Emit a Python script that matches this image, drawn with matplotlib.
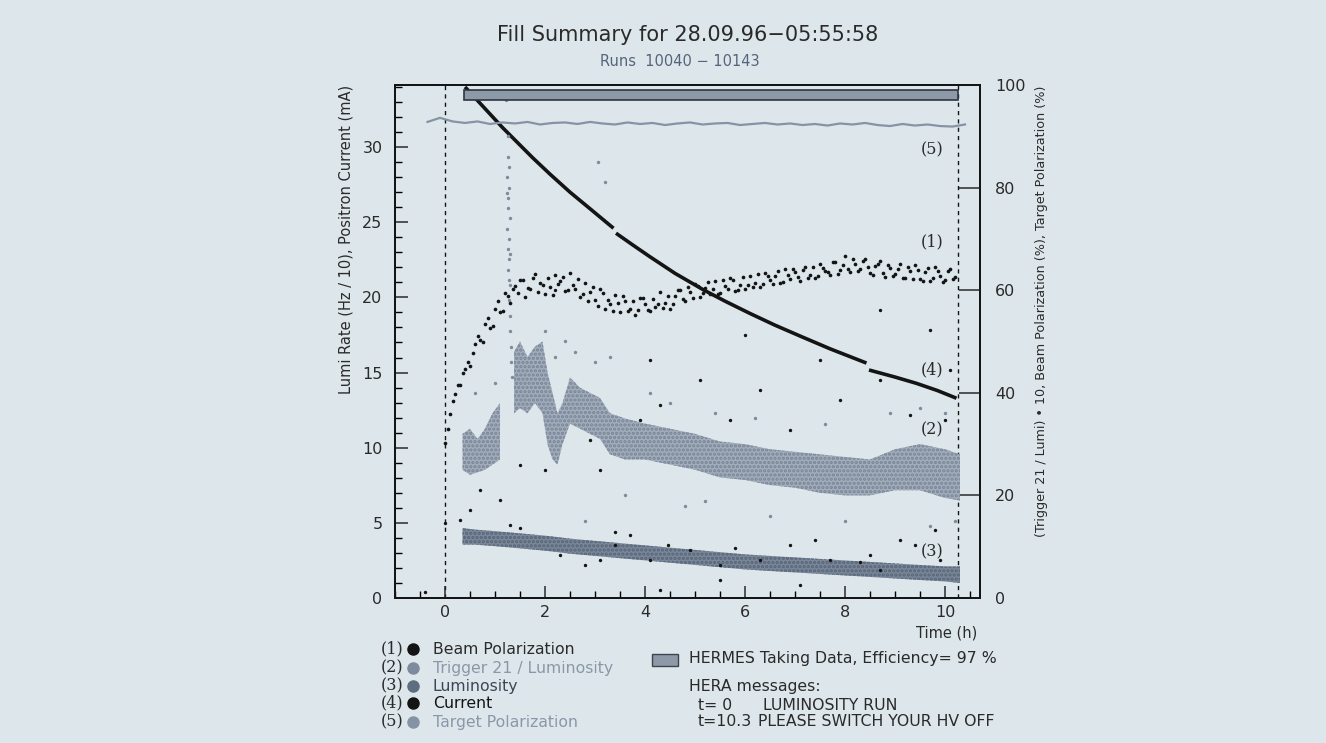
import numpy as np
import matplotlib
matplotlib.use("Agg")
import matplotlib.pyplot as plt
from matplotlib.ticker import MultipleLocator
from matplotlib.patches import Rectangle

# ---------------- data ----------------
title = "Fill Summary for 28.09.96\u221205:55:58"
subtitle = "Runs  10040 \u2212 10143"

# (4) Positron current (mA, left axis) - three segments separated by small steps
cur_t = [[0.40, 0.65, 0.90, 1.15, 1.45, 1.75, 2.10, 2.50, 2.90, 3.37],
         [3.42, 3.75, 4.10, 4.60, 5.17, 5.60, 6.10, 6.60, 7.10, 7.70, 8.43],
         [8.48, 9.00, 9.43, 9.85, 10.23]]
cur_v = [[34.0, 33.1, 32.2, 31.3, 30.3, 29.3, 28.2, 27.0, 25.9, 24.6],
         [24.27, 23.5, 22.7, 21.6, 20.5, 19.75, 18.93, 18.15, 17.43, 16.58, 15.63],
         [15.17, 14.7, 14.28, 13.8, 13.29]]

# (1) Beam polarization (%): set A every 0.1 h from t=0, set B every 0.1 h from t=0.05
beam_t0, beam_dt = 0.0, 0.1
beam_pol = [30.2, 35.9, 39.8, 41.5, 44.7, 45.3, 49.6, 50.2, 53.4, 52.7,
            56.3, 55.8, 59.4, 57.6, 60.8, 61.9, 58.7, 60.3, 63.1, 61.4,
            59.2, 60.7, 62.9, 61.8, 59.9, 63.4, 60.3, 58.6, 61.5, 59.7,
            58.1, 60.2, 56.4, 57.3, 59.1, 55.7, 57.9, 56.3, 55.2, 58.5,
            57.4, 55.9, 56.8, 59.7, 57.6, 56.4, 58.9, 60.1, 57.8, 59.6,
            61.3, 58.7, 60.4, 59.2, 61.8, 59.5, 60.9, 62.4, 59.8, 61.1,
            60.2, 62.7, 61.5, 60.6, 63.3, 61.9, 62.8, 61.4, 64.2, 62.1,
            63.6, 61.8, 64.5, 63.0, 62.3, 65.1, 63.7, 62.9, 65.4, 64.0,
            66.7, 63.5, 65.2, 64.1, 66.0, 63.3, 64.8, 65.7, 62.6, 64.4,
            63.1, 65.2, 62.4, 63.8, 64.9, 62.2, 63.5, 61.7, 64.6, 62.8,
            61.9, 64.1, 62.6]
beam_pol_b = [33.0, 38.4, 41.6, 43.9, 46.1, 47.8, 51.0, 49.9, 54.6, 53.1,
              57.8, 56.0, 58.9, 60.3, 59.4, 62.0, 60.5, 62.4, 59.6, 61.1,
              62.3, 59.1, 61.2, 62.6, 60.1, 61.0, 62.2, 59.3, 57.8, 60.6,
              56.9, 59.4, 58.0, 55.9, 57.6, 58.8, 56.0, 57.9, 56.1, 58.4,
              56.2, 58.3, 57.4, 56.6, 58.9, 57.3, 60.0, 58.2, 60.7, 58.4,
              60.9, 59.4, 61.6, 60.3, 59.2, 61.9, 60.2, 62.0, 60.1, 62.5,
              61.0, 60.7, 63.1, 61.3, 62.8, 61.2, 63.7, 61.6, 62.9, 64.1,
              62.5, 63.9, 62.3, 64.6, 62.7, 64.3, 63.6, 65.5, 63.2, 65.0,
              64.1, 66.1, 63.8, 65.6, 64.5, 62.9, 65.1, 63.4, 64.9, 62.8,
              64.2, 62.3, 64.6, 62.1, 63.9, 61.8, 64.3, 62.4, 63.7, 61.6,
              63.8, 62.1]

# (5) Target polarization (%), one value every 0.25 h starting at t=-0.35
tgt_t0, tgt_dt = -0.35, 0.25
tgt_pol = [92.8, 93.6, 92.9, 92.6, 92.9, 92.4, 92.7, 92.5, 92.8, 92.3,
           92.6, 92.7, 92.4, 92.8, 92.5, 92.3, 92.7, 92.4, 92.6, 92.2,
           92.5, 92.7, 92.3, 92.5, 92.6, 92.2, 92.4, 92.6, 92.3, 92.5,
           92.2, 92.4, 92.1, 92.5, 92.3, 92.6, 92.2, 92.0, 92.4, 92.1,
           92.3, 92.0, 91.9, 92.3]

# (2) Trigger 21 / Luminosity x10 (right axis) : cloud envelopes
trig_a_t  = [0.35, 0.50, 0.65, 0.80, 0.95, 1.10]
trig_a_lo = [25.0, 24.0, 24.5, 25.0, 26.0, 27.0]
trig_a_hi = [32.0, 33.0, 31.0, 33.0, 36.0, 38.0]
trig_b_t  = [1.38, 1.50, 1.65, 1.80, 1.95, 2.05, 2.15, 2.25, 2.35, 2.50, 2.70, 2.90,
             3.10, 3.30, 3.60, 4.00, 4.50, 5.00, 5.50, 6.00, 6.50, 7.00, 7.50, 8.00,
             8.50, 9.00, 9.50, 10.00, 10.30]
trig_b_hi = [48, 50, 47, 49, 50, 44, 40, 36, 38, 43, 41, 40, 39, 36, 35, 34, 33, 32,
             30.5, 30, 29, 28.5, 28, 27.5, 27, 29, 30, 29, 28]
trig_b_lo = [36, 37, 36, 38, 36, 30, 27, 26, 30, 34, 33, 32, 31, 28, 27, 27, 26, 25,
             23.5, 23, 22, 21.5, 20.5, 20, 20, 21, 21, 19.5, 19]
# (2) isolated points (spike near t=1.3 and stragglers)
trig_pts_t = [1.22, 1.25, 1.27, 1.24, 1.28, 1.26, 1.25, 1.29, 1.24, 1.27, 1.25, 1.28,
              1.26, 1.30, 1.27, 1.29, 1.30, 1.31, 1.32, 1.33, 1.26, 1.23, 1.30, 1.28,
              3.05, 3.20, 2.0, 2.6, 3.0, 3.3, 4.1, 4.5, 5.4, 6.2, 7.6, 8.9, 9.5, 10.0,
              1.0, 0.6, 2.8, 4.8, 6.5, 8.0, 9.7, 10.2, 3.6, 5.2, 2.2, 2.4]
trig_pts_v = [97, 90, 84, 82, 80, 78, 76, 74, 72, 70, 68, 66,
              64, 61, 58, 55, 52, 49, 46, 43, 86, 79, 67, 62,
              85, 81, 52, 48, 46, 47, 40, 38, 36, 35, 34, 36, 37, 36,
              42, 40, 15, 18, 16, 15, 14, 15, 20, 19, 47, 50]

# (3) Luminosity (Hz/10, left axis) : cloud envelope
lumi_t  = [0.35, 0.6, 1.0, 1.5, 2.0, 2.5, 3.0, 3.5, 4.0, 4.5, 5.0, 5.5, 6.0, 6.5,
           7.0, 7.5, 8.0, 8.5, 9.0, 9.5, 10.0, 10.3]
lumi_hi = [4.65, 4.55, 4.45, 4.3, 4.15, 3.95, 3.8, 3.65, 3.5, 3.35, 3.2, 3.05, 2.9,
           2.8, 2.7, 2.6, 2.5, 2.4, 2.3, 2.2, 2.1, 2.1]
lumi_lo = [3.55, 3.55, 3.45, 3.3, 3.15, 2.95, 2.8, 2.65, 2.5, 2.35, 2.2, 2.05, 1.9,
           1.8, 1.7, 1.6, 1.5, 1.4, 1.3, 1.2, 1.1, 1.0]

# scattered black points (left-axis units)
out_t = [0.3, 0.5, 1.3, 1.5, 2.3, 2.8, 3.1, 3.4, 3.4, 3.7, 4.1, 4.46, 4.9, 5.5, 5.8,
         6.3, 6.9, 7.1, 7.4, 7.7, 8.3, 8.5, 8.7, 9.1, 9.4, 9.9, 9.8, 5.5, 4.3,
         3.1, 2.9, 3.9, 4.3, 5.1, 5.7, 6.3, 6.9, 7.9, 8.7, 9.3, 10.0, 9.7, 10.1,
         8.7, 7.5, 6.0, 4.1, 2.2, 2.0, 1.5, 0.7, 1.1, -0.4, 0.0]
out_v = [5.19, 5.85, 4.86, 4.66, 2.86, 2.2, 2.53, 4.39, 3.53, 4.19, 2.53, 3.53, 3.19,
         2.2, 3.33, 2.53, 3.53, 0.86, 3.86, 2.53, 2.4, 2.86, 1.86, 3.86, 3.53, 2.53,
         4.52, 1.2, 0.53, 8.52, 10.5, 11.84, 12.84, 14.5, 11.84, 13.84, 11.18, 13.17,
         14.5, 12.18, 11.84, 17.83, 15.17, 19.16, 15.84, 17.5, 15.84, 20.5, 8.52,
         8.85, 7.19, 6.52, 0.4, 5.0]

hermes_start, hermes_end = 0.37, 10.25
hermes_lo, hermes_hi = 97.0, 99.1
fill_end = 10.25

legend_nums = ["(1)", "(2)", "(3)", "(4)", "(5)"]
legend_names = ["Beam Polarization", "Trigger 21 / Luminosity", "Luminosity",
                "Current", "Target Polarization"]
hera_msgs = [("t= 0", "LUMINOSITY RUN"), ("t=10.3", "PLEASE SWITCH YOUR HV OFF")]

# ---------------- style ----------------
BG = "#dde7eb"
C_BLACK = "#141414"
C_TRIG = "#7d8b9d"
C_LUMI = "#5f6d80"
C_TGT = "#8593a5"
TXT = "#2a2a2a"
plt.rcParams['font.family'] = ['DejaVu Sans']
plt.rcParams['hatch.linewidth'] = 1.6

fig = plt.figure(figsize=(13.26, 7.43), dpi=100, facecolor=BG)
ax = fig.add_axes([395/1326, 1-598/743, 585/1326, 513/743])
ax.set_facecolor(BG)
ax.set_xlim(-1.0, 10.7)
ax.set_ylim(0, 34.13)
ax2 = ax.twinx()
ax2.set_ylim(0, 100)
ax2.patch.set_visible(False)

# clouds (stippled bands)
ax.fill_between(lumi_t, lumi_lo, lumi_hi, facecolor="#7a8798", edgecolor="#56647a",
                hatch='....', lw=0, zorder=2)
for tt_, lo_, hi_ in ((trig_a_t, trig_a_lo, trig_a_hi), (trig_b_t, trig_b_lo, trig_b_hi)):
    ax2.fill_between(tt_, lo_, hi_, facecolor="#a3adb9", edgecolor="#76849a",
                     hatch='....', lw=0, zorder=2)
ax2.scatter(trig_pts_t, trig_pts_v, s=6, color=C_TRIG, lw=0, zorder=3)

# outliers
ax.scatter(out_t, out_v, s=6, color=C_BLACK, lw=0, zorder=3)

# current
for tt_, vv_ in zip(cur_t, cur_v):
    ax.plot(tt_, vv_, color=C_BLACK, lw=2.6, solid_capstyle='butt', zorder=4)

# beam polarization
bt = beam_t0 + beam_dt*np.arange(len(beam_pol))
bt2 = beam_t0 + beam_dt/2 + beam_dt*np.arange(len(beam_pol_b))
ax2.scatter(bt, beam_pol, s=7, color=C_BLACK, lw=0, zorder=5)
ax2.scatter(bt2, beam_pol_b, s=7, color=C_BLACK, lw=0, zorder=5)

# target polarization
tt = tgt_t0 + tgt_dt*np.arange(len(tgt_pol))
ax2.plot(tt, tgt_pol, color=C_TGT, lw=1.6, zorder=4)

# HERMES bar
ax2.add_patch(Rectangle((hermes_start, hermes_lo), hermes_end-hermes_start,
                        hermes_hi-hermes_lo, facecolor="#8d99a6", edgecolor="#2e3540",
                        lw=1.2, zorder=6))

# dashed fill boundaries
for xv in (0.0, fill_end):
    ax.axvline(xv, color=C_BLACK, lw=1.0, ls=(0, (3, 3)), zorder=1)

# curve labels
lab_pos = {"(5)": 29.8, "(1)": 23.7, "(4)": 15.2, "(2)": 11.2, "(3)": 3.06}
for k, v in lab_pos.items():
    ax.text(9.75, v, k, ha='center', va='center', fontsize=11.5,
            family='DejaVu Serif', color=TXT, zorder=7)

# ticks
ax.xaxis.set_major_locator(MultipleLocator(2))
ax.xaxis.set_minor_locator(MultipleLocator(0.5))
ax.yaxis.set_major_locator(MultipleLocator(5))
ax.yaxis.set_minor_locator(MultipleLocator(1))
ax2.yaxis.set_major_locator(MultipleLocator(20))
ax.tick_params(which='major', direction='in', length=9, width=1.1, labelsize=11.5,
               colors=TXT, top=False)
ax.tick_params(which='minor', direction='in', length=5, width=1.0, top=False)
ax.tick_params(axis='x', pad=5)
ax.tick_params(axis='y', pad=9)
ax2.tick_params(which='major', direction='in', length=15, width=1.1, labelsize=11.5,
                colors=TXT, pad=11)
for a in (ax, ax2):
    for s in a.spines.values():
        s.set_linewidth(1.3)
        s.set_color(C_BLACK)

# texts
fig.text(688/1326, 1-35/743, title, ha='center', va='center', fontsize=15, color=TXT)
fig.text(680/1326, 1-62/743, subtitle, ha='center', va='center', fontsize=10.5,
         color="#55647a")
fig.text(346/1326, 1-85/743, "Lumi Rate (Hz / 10), Positron Current (mA)",
         rotation=90, ha='center', va='top', fontsize=10.5, color=TXT)
fig.text(1042/1326, 1-86/743,
         "(Trigger 21 / Lumi) \u2022 10, Beam Polarization (%), Target Polarization (%)",
         rotation=90, ha='center', va='top', fontsize=9.2, color=TXT)
fig.text(977/1326, 1-633/743, "Time (h)", ha='right', va='center', fontsize=10.5,
         color=TXT)

# legend (bottom left)
leg_y = [649, 668, 686, 703, 722]
leg_mcol = [C_BLACK, C_TRIG, C_LUMI, C_BLACK, C_TGT]
leg_tcol = [TXT, "#8a97a8", "#3b4656", C_BLACK, "#8a97a8"]
for n, name, y, mc, tc in zip(legend_nums, legend_names, leg_y, leg_mcol, leg_tcol):
    fig.text(392/1326, 1-y/743, n, ha='center', va='center', fontsize=11.5,
             family='DejaVu Serif', color=TXT)
    fig.text(433/1326, 1-y/743, name, ha='left', va='center', fontsize=11.3, color=tc)
    fig.add_artist(plt.Line2D([413/1326], [1-y/743], marker='o', ms=8, color=mc,
                              transform=fig.transFigure))

fig.add_artist(Rectangle((652/1326, 1-666/743), 26/1326, 12/743,
                         transform=fig.transFigure, facecolor="#8d99a6",
                         edgecolor="#3b4450", lw=1.0))
fig.text(689/1326, 1-659/743, "HERMES Taking Data, Efficiency= 97 %", ha='left',
         va='center', fontsize=11.3, color=TXT)
fig.text(689/1326, 1-687/743, "HERA messages:", ha='left', va='center', fontsize=11.3,
         color=TXT)
for (a, b), y, bx in zip(hera_msgs, [705, 722], [763, 758]):
    fig.text(698/1326, 1-y/743, a, ha='left', va='center', fontsize=11.3, color=TXT)
    fig.text(bx/1326, 1-y/743, b, ha='left', va='center', fontsize=11.3, color=TXT)

fig.savefig("out.png", dpi=100, facecolor=BG)
